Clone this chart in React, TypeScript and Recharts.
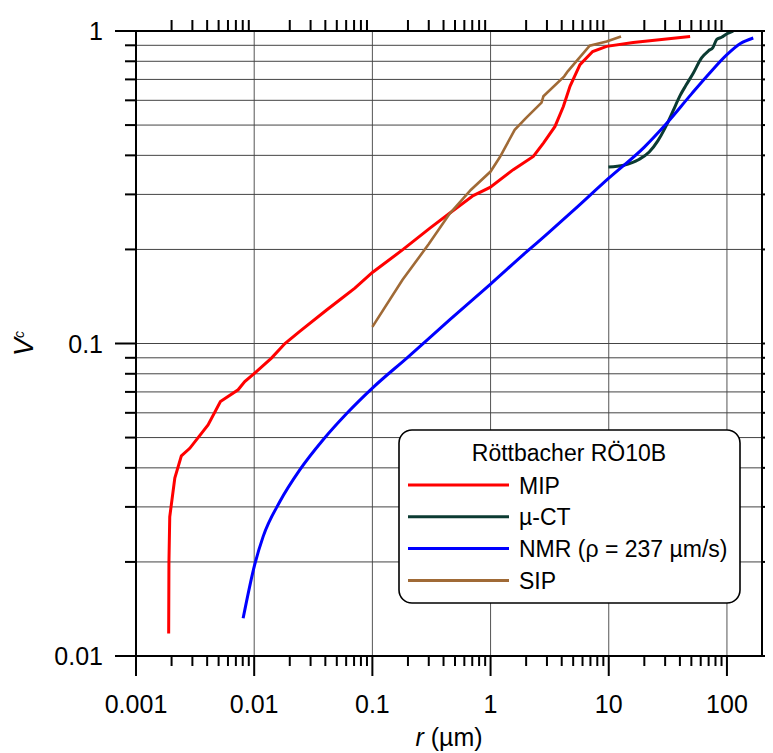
import React from 'react';
import { LineChart, Line, XAxis, YAxis, ReferenceLine, Legend } from 'recharts';

const FONT = '"Liberation Sans", Arial, Helvetica, sans-serif';

// MIP
const mipR = [0.00189, 0.0019, 0.00193, 0.00213, 0.00242, 0.00285, 0.00407, 0.00518, 0.00731, 0.00832, 0.0101, 0.014, 0.0182, 0.0243, 0.041, 0.0531, 0.0711, 0.1, 0.182, 0.307, 0.453, 0.714, 0.989, 1.556, 2.3, 2.8, 3.51, 4.13, 4.7, 5.71, 7.31, 9.6, 16.1, 48.8];
const mipV = [0.0118, 0.02, 0.0279, 0.0371, 0.0437, 0.0462, 0.0549, 0.0652, 0.0711, 0.0755, 0.0804, 0.0898, 0.1, 0.1093, 0.128, 0.138, 0.1504, 0.1688, 0.2, 0.234, 0.2615, 0.2975, 0.316, 0.36, 0.397, 0.438, 0.495, 0.5735, 0.665, 0.78, 0.86, 0.893, 0.919, 0.961];

// µ-CT
const ctR = [9.93, 13.4, 18, 22, 26, 30, 35, 40, 45, 52, 61, 70, 76, 82, 90, 100, 113];
const ctV = [0.367, 0.372, 0.388, 0.41, 0.445, 0.49, 0.555, 0.62, 0.67, 0.734, 0.82, 0.865, 0.885, 0.94, 0.955, 0.98, 1.0];

// NMR
const nmrR = [0.00806, 0.0101, 0.0119, 0.0165, 0.0243, 0.0383, 0.0606, 0.1, 0.2, 0.45, 1.0, 2.0, 3.0, 5.0, 10, 20, 30, 50, 70, 100, 130, 167];
const nmrV = [0.0132, 0.0196, 0.0241, 0.0312, 0.0394, 0.0492, 0.0597, 0.072, 0.0905, 0.119, 0.155, 0.196, 0.224, 0.266, 0.338, 0.425, 0.5, 0.628, 0.727, 0.84, 0.912, 0.95];

// SIP
const sipR = [0.1, 0.18, 0.3, 0.45, 0.68, 1.0, 1.2, 1.6, 2.0, 2.7, 2.8, 4.2, 4.5, 6.9, 9.6, 12.7];
const sipV = [0.113, 0.16, 0.208, 0.26, 0.31, 0.355, 0.395, 0.483, 0.527, 0.59, 0.618, 0.716, 0.743, 0.897, 0.926, 0.961];

const xTicks = [
  0.001, 0.002, 0.003, 0.004, 0.005, 0.006, 0.007, 0.008, 0.009,
  0.01, 0.02, 0.03, 0.04, 0.05, 0.06, 0.07, 0.08, 0.09,
  0.1, 0.2, 0.3, 0.4, 0.5, 0.6, 0.7, 0.8, 0.9,
  1, 2, 3, 4, 5, 6, 7, 8, 9,
  10, 20, 30, 40, 50, 60, 70, 80, 90,
  100,
];
const xMajor = [0.001, 0.01, 0.1, 1, 10, 100];
const xMajorLabels = ['0.001', '0.01', '0.1', '1', '10', '100'];
const yTicks = [
  0.01, 0.02, 0.03, 0.04, 0.05, 0.06, 0.07, 0.08, 0.09,
  0.1, 0.2, 0.3, 0.4, 0.5, 0.6, 0.7, 0.8, 0.9,
  1,
];
const yMajor = [0.01, 0.1, 1];
const yMajorLabels = ['0.01', '0.1', '1'];
const xGrid = [0.01, 0.1, 1, 10, 100];
const yGrid = [0.02, 0.03, 0.04, 0.05, 0.06, 0.07, 0.08, 0.09, 0.1, 0.2, 0.3, 0.4, 0.5, 0.6, 0.7, 0.8, 0.9];

const series = [
  { name: 'MIP', r: mipR, v: mipV, color: '#ff0000', width: 3, type: 'linear' },
  { name: 'µ-CT', r: ctR, v: ctV, color: '#0b3b32', width: 3, type: 'monotone' },
  { name: 'NMR (ρ = 237 µm/s)', r: nmrR, v: nmrV, color: '#0000ff', width: 3, type: 'monotone' },
  { name: 'SIP', r: sipR, v: sipV, color: '#a06a36', width: 2.6, type: 'linear' },
];
const legendTitle = 'Röttbacher RÖ10B';

const toData = (r: number[], v: number[]) => r.map((x, i) => ({ r: x, v: v[i] }));

const BottomTick = (props: any) => {
  const { x, y, payload } = props;
  const i = xMajor.indexOf(payload.value);
  const major = i >= 0;
  return (
    <g>
      <line x1={x} x2={x} y1={y} y2={y + (major ? 20 : 10)} stroke="#000" strokeWidth={2} />
      {major && (
        <text x={x} y={y + 57} textAnchor="middle" fontSize={25} fontFamily={FONT} fill="#000">
          {xMajorLabels[i]}
        </text>
      )}
    </g>
  );
};

const TopTick = (props: any) => {
  const { x, y, payload } = props;
  const major = xMajor.indexOf(payload.value) >= 0;
  if (major) return <g />;
  return <line x1={x} x2={x} y1={y} y2={y - 11} stroke="#000" strokeWidth={2} />;
};

const LeftTick = (props: any) => {
  const { x, y, payload } = props;
  const i = yMajor.indexOf(payload.value);
  const major = i >= 0;
  return (
    <g>
      <line x1={x - (major ? 21 : 11)} x2={x} y1={y} y2={y} stroke="#000" strokeWidth={2} />
      {major && (
        <text x={x - 33} y={y + 9} textAnchor="end" fontSize={25} fontFamily={FONT} fill="#000">
          {yMajorLabels[i]}
        </text>
      )}
    </g>
  );
};

const RightTick = (props: any) => {
  const { x, y } = props;
  return <line x1={x} x2={x + 12} y1={y} y2={y} stroke="#000" strokeWidth={2} />;
};

const XLabel = (props: any) => {
  const vb = props.viewBox || { x: 128, y: 648, width: 626, height: 97 };
  return (
    <text x={vb.x + vb.width / 2} y={vb.y + 90} textAnchor="middle" fontSize={25} fontFamily={FONT} fill="#000">
      <tspan fontStyle="italic">r</tspan>
      <tspan> (µm)</tspan>
    </text>
  );
};

const YLabel = (props: any) => {
  const vb = props.viewBox || { x: 0, y: 23, width: 128, height: 625 };
  const cx = vb.x + 25;
  const cy = vb.y + vb.height / 2;
  return (
    <text x={cx} y={cy} transform={`rotate(-90, ${cx}, ${cy})`} textAnchor="middle" fontSize={27} fontFamily={FONT} fill="#000">
      <tspan fontStyle="italic">V</tspan>
      <tspan fontSize={14} fontStyle="italic" dy={-9}>c</tspan>
    </text>
  );
};

const LegendBox = () => (
  <svg width={344} height={176} style={{ display: 'block' }}>
    <rect x={1} y={1} width={341} height={173} rx={13} ry={13} fill="#fff" stroke="#000" strokeWidth={1.6} />
    <text x={171} y={32} textAnchor="middle" fontSize={23} fontFamily={FONT} fill="#000">{legendTitle}</text>
    {series.map((s, i) => {
      const ly = 56 + i * 31.8;
      return (
        <g key={s.name}>
          <line x1={10} x2={111} y1={ly} y2={ly} stroke={s.color} strokeWidth={3} />
          <text x={121} y={ly + 8.5} fontSize={23} fontFamily={FONT} fill="#000">{s.name}</text>
        </g>
      );
    })}
  </svg>
);

export default function App() {
  return (
    <div style={{ width: 765, height: 745, position: 'relative' }}>
      <LineChart width={765} height={745} margin={{ top: 0, right: 0, bottom: 0, left: 0 }}>
        <XAxis
          xAxisId={0}
          dataKey="r"
          type="number"
          scale="log"
          domain={[0.001, 198]}
          allowDataOverflow
          ticks={xTicks}
          interval={0}
          tickSize={0}
          tickMargin={0}
          height={97}
          axisLine={{ stroke: '#000', strokeWidth: 2 }}
          tickLine={false}
          tick={<BottomTick />}
          label={<XLabel />}
        />
        <XAxis
          xAxisId="top"
          orientation="top"
          dataKey="r"
          type="number"
          scale="log"
          domain={[0.001, 198]}
          allowDataOverflow
          ticks={xTicks}
          interval={0}
          tickSize={0}
          tickMargin={0}
          height={23}
          axisLine={{ stroke: '#000', strokeWidth: 2 }}
          tickLine={false}
          tick={<TopTick />}
        />
        <YAxis
          yAxisId={0}
          dataKey="v"
          type="number"
          scale="log"
          domain={[0.01, 1]}
          allowDataOverflow
          ticks={yTicks}
          interval={0}
          tickSize={0}
          tickMargin={0}
          width={128}
          axisLine={{ stroke: '#000', strokeWidth: 2 }}
          tickLine={false}
          tick={<LeftTick />}
          label={<YLabel />}
        />
        <YAxis
          yAxisId="right"
          orientation="right"
          type="number"
          scale="log"
          domain={[0.01, 1]}
          allowDataOverflow
          ticks={yTicks}
          interval={0}
          tickSize={0}
          tickMargin={0}
          width={11}
          axisLine={{ stroke: '#000', strokeWidth: 2 }}
          tickLine={false}
          tick={<RightTick />}
        />
        {xGrid.map((g) => (
          <ReferenceLine key={'x' + g} x={g} xAxisId={0} yAxisId={0} stroke="#555" strokeWidth={1} />
        ))}
        {yGrid.map((g) => (
          <ReferenceLine key={'y' + g} y={g} xAxisId={0} yAxisId={0} stroke="#444" strokeWidth={1} />
        ))}
        {series.map((s) => (
          <Line
            key={s.name}
            xAxisId={0}
            yAxisId={0}
            data={toData(s.r, s.v)}
            dataKey="v"
            name={s.name}
            type={s.type as any}
            stroke={s.color}
            strokeWidth={s.width}
            dot={false}
            activeDot={false}
            isAnimationActive={false}
          />
        ))}
        <Legend
          layout="vertical"
          align="center"
          verticalAlign="middle"
          content={() => <LegendBox />}
          wrapperStyle={{ position: 'absolute', left: 390, top: 421, width: 344, height: 176 }}
        />
      </LineChart>
    </div>
  );
}
